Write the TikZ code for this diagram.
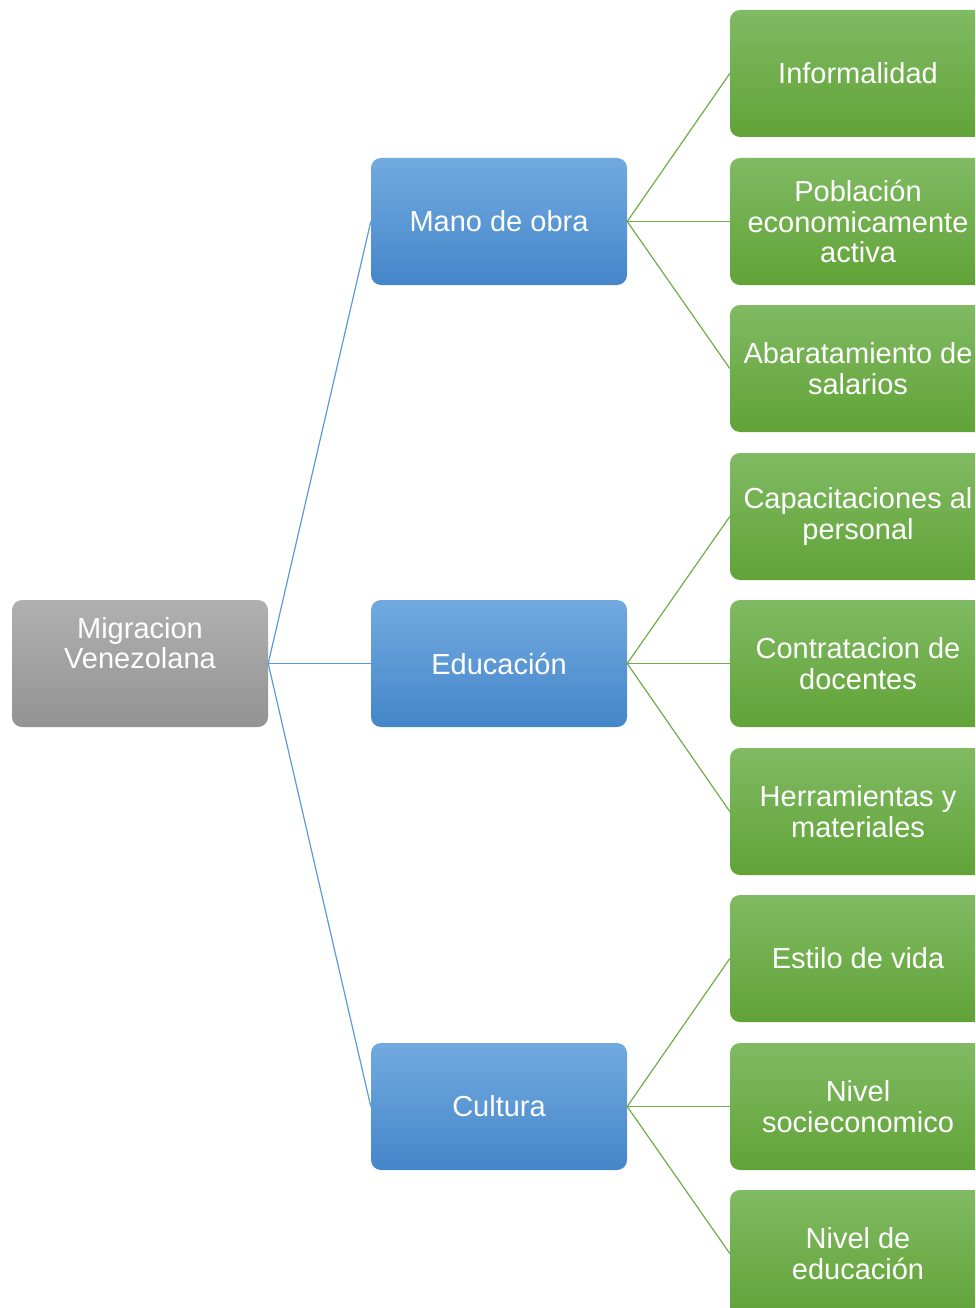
\documentclass[tikz,border=0pt]{standalone}
\usepackage{fontspec}
\setmainfont{Liberation Sans}
\definecolor{grayT}{HTML}{B0B0B0}
\definecolor{grayB}{HTML}{939393}
\definecolor{blueT}{HTML}{72AADF}
\definecolor{blueB}{HTML}{4486CA}
\definecolor{greenT}{HTML}{80BA63}
\definecolor{greenB}{HTML}{61A337}
\definecolor{lineblue}{HTML}{5B9BD5}
\definecolor{linegreen}{HTML}{70AD47}
\tikzset{
  box/.style={rectangle, rounded corners=10pt, minimum width=256pt, minimum height=127pt,
    inner sep=0pt, text=white, align=center, font=\fontsize{29}{30.5}\selectfont},
  graybox/.style={box, top color=grayT, bottom color=grayB},
  bluebox/.style={box, top color=blueT, bottom color=blueB},
  greenbox/.style={box, top color=greenT, bottom color=greenB},
  bline/.style={draw=lineblue, line width=1.2pt},
  gline/.style={draw=linegreen, line width=1.2pt},
  lbl/.style={text=white, align=center, inner sep=0pt, font=\fontsize{29}{30.5}\selectfont}
}
\begin{document}
\begin{tikzpicture}[x=1pt,y=-1pt]
\useasboundingbox (0,0) rectangle (975,1308);
\clip (0,0) rectangle (975,1308);
% root
\node[graybox] (mig) at (140,663.5) {};
\node[lbl] (migt) at (140,643) {Migracion\\Venezolana};
% level 1
\node[bluebox] (mano) at (499,221.5) {Mano de obra};
\node[bluebox] (edu) at (499,663.5) {Educación};
\node[bluebox] (cul) at (499,1106.5) {Cultura};
% level 2
\node[greenbox] (inf) at (858,73.5) {Informalidad};
\node[greenbox] (pob) at (858,221.5) {Población\\economicamente\\activa};
\node[greenbox] (aba) at (858,368.5) {Abaratamiento de\\salarios};
\node[greenbox] (cap) at (858,516.5) {Capacitaciones al\\personal};
\node[greenbox] (con) at (858,663.5) {Contratacion de\\docentes};
\node[greenbox] (her) at (858,811.5) {Herramientas y\\materiales};
\node[greenbox] (est) at (858,958.5) {Estilo de vida};
\node[greenbox] (niv) at (858,1106.5) {Nivel\\socieconomico};
\node[greenbox] (nie) at (858,1253.5) {Nivel de\\educación};
% connectors
\draw[bline] (mig.east) -- (mano.west);
\draw[bline] (mig.east) -- (edu.west);
\draw[bline] (mig.east) -- (cul.west);
\draw[gline] (mano.east) -- (inf.west);
\draw[gline] (mano.east) -- (pob.west);
\draw[gline] (mano.east) -- (aba.west);
\draw[gline] (edu.east) -- (cap.west);
\draw[gline] (edu.east) -- (con.west);
\draw[gline] (edu.east) -- (her.west);
\draw[gline] (cul.east) -- (est.west);
\draw[gline] (cul.east) -- (niv.west);
\draw[gline] (cul.east) -- (nie.west);
\end{tikzpicture}
\end{document}
